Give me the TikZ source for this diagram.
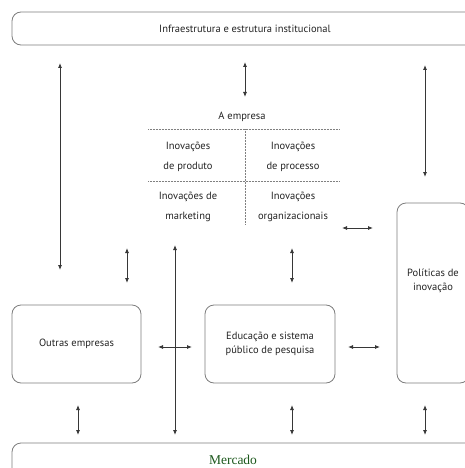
\documentclass[tikz,border=0pt]{standalone}
\usepackage{fontspec}
\setmainfont{PT Sans}
\newfontfamily\mercfont{Liberation Serif}
\usepackage{tikz}
\usetikzlibrary{arrows.meta}
\definecolor{boxgray}{RGB}{125,125,125}
\definecolor{arrgray}{RGB}{55,55,55}
\definecolor{txtgray}{RGB}{35,35,35}
\definecolor{mercgreen}{RGB}{28,88,28}

\begin{document}
\begin{tikzpicture}[x=1pt, y=-1pt, >={Latex[length=5pt,width=4pt]},
        box/.style={draw=boxgray, line width=0.8pt, rounded corners=9pt, inner sep=0pt},
        txt/.style={text=txtgray, font=\fontsize{10.5}{20}\selectfont, align=center},
        twoline/.style={txt, font=\fontsize{10.5}{13.5}\selectfont},
        link/.style={<->, draw=arrgray, line width=0.8pt},
        sep/.style={draw=gray, densely dotted, line width=0.5pt}]
                \useasboundingbox (0,0) rectangle (465,468);
                \clip (0,0) rectangle (465,468);
                % boxes
                \node[box, txt, minimum width=466pt, minimum height=33pt] (infra) at (245,28.5) {Infraestrutura e estrutura institucional};
                \node[box, twoline, minimum width=129pt, minimum height=78pt] (outras) at (76.5,344) {Outras empresas};
                \node[box, twoline, minimum width=130pt, minimum height=78pt] (educacao) at (270,344) {Educação e sistema\\público de pesquisa};
                \node[box, minimum width=72pt, minimum height=180pt] (politicas) at (433,293) {};
                \node[twoline] (politicasT) at (433,281) {Políticas de\\inovação};
                \node[box, minimum width=480pt, minimum height=60pt] (mercado) at (252,473) {};
                \node[text=mercgreen, font=\mercfont\fontsize{13.5}{15}\selectfont] (mercadoT) at (233,460) {Mercado};
                % a empresa
                \node[txt] (empresa) at (242,117) {A empresa};
                \node[txt] (produto) at (188,157) {Inovações\\de produto};
                \node[txt] (processo) at (293,157) {Inovações\\de processo};
                \node[txt] (marketing) at (188,207) {Inovações de\\marketing};
                \node[txt] (organiz) at (293,207) {Inovações\\organizacionais};
                \coordinate (sepL1) at (148,129);
                \coordinate (sepR1) at (340,129);
                \coordinate (sepL2) at (148,181);
                \coordinate (sepR2) at (340,181);
                \coordinate (sepT) at (245,129);
                \coordinate (sepB) at (245,224);
                \draw[sep] (sepL1) -- (sepR1);
                \draw[sep] (sepL2) -- (sepR2);
                \draw[sep] (sepT) -- (sepB);
                % arrow ends
                \coordinate (infraA) at (60,63);   \coordinate (outrasA) at (60,270);
                \coordinate (infraB) at (245,62);  \coordinate (empresaB) at (245,97);
                \coordinate (infraC) at (425,65);  \coordinate (politicasC) at (425,177);
                \coordinate (empresaD) at (342,228); \coordinate (politicasD) at (373,228);
                \coordinate (empresaE) at (127,248); \coordinate (outrasE) at (127,283);
                \coordinate (empresaF) at (292,248); \coordinate (educacaoF) at (292,283);
                \coordinate (empresaG) at (175,245); \coordinate (mercadoG) at (175,435);
                \coordinate (outrasH) at (158,347); \coordinate (educacaoH) at (192,347);
                \coordinate (educacaoI) at (348,347); \coordinate (politicasI) at (380,347);
                \coordinate (outrasJ) at (78,405);  \coordinate (mercadoJ) at (78,435);
                \coordinate (educacaoK) at (292,405); \coordinate (mercadoK) at (292,435);
                \coordinate (politicasL) at (425,405); \coordinate (mercadoL) at (425,435);
                % arrows
                \draw[link] (infraA) -- (outrasA);
                \draw[link] (infraB) -- (empresaB);
                \draw[link] (infraC) -- (politicasC);
                \draw[link] (empresaD) -- (politicasD);
                \draw[link] (empresaE) -- (outrasE);
                \draw[link] (empresaF) -- (educacaoF);
                \draw[link] (empresaG) -- (mercadoG);
                \draw[link] (outrasH) -- (educacaoH);
                \draw[link] (educacaoI) -- (politicasI);
                \draw[link] (outrasJ) -- (mercadoJ);
                \draw[link] (educacaoK) -- (mercadoK);
                \draw[link] (politicasL) -- (mercadoL);
            \end{tikzpicture}
\end{document}
